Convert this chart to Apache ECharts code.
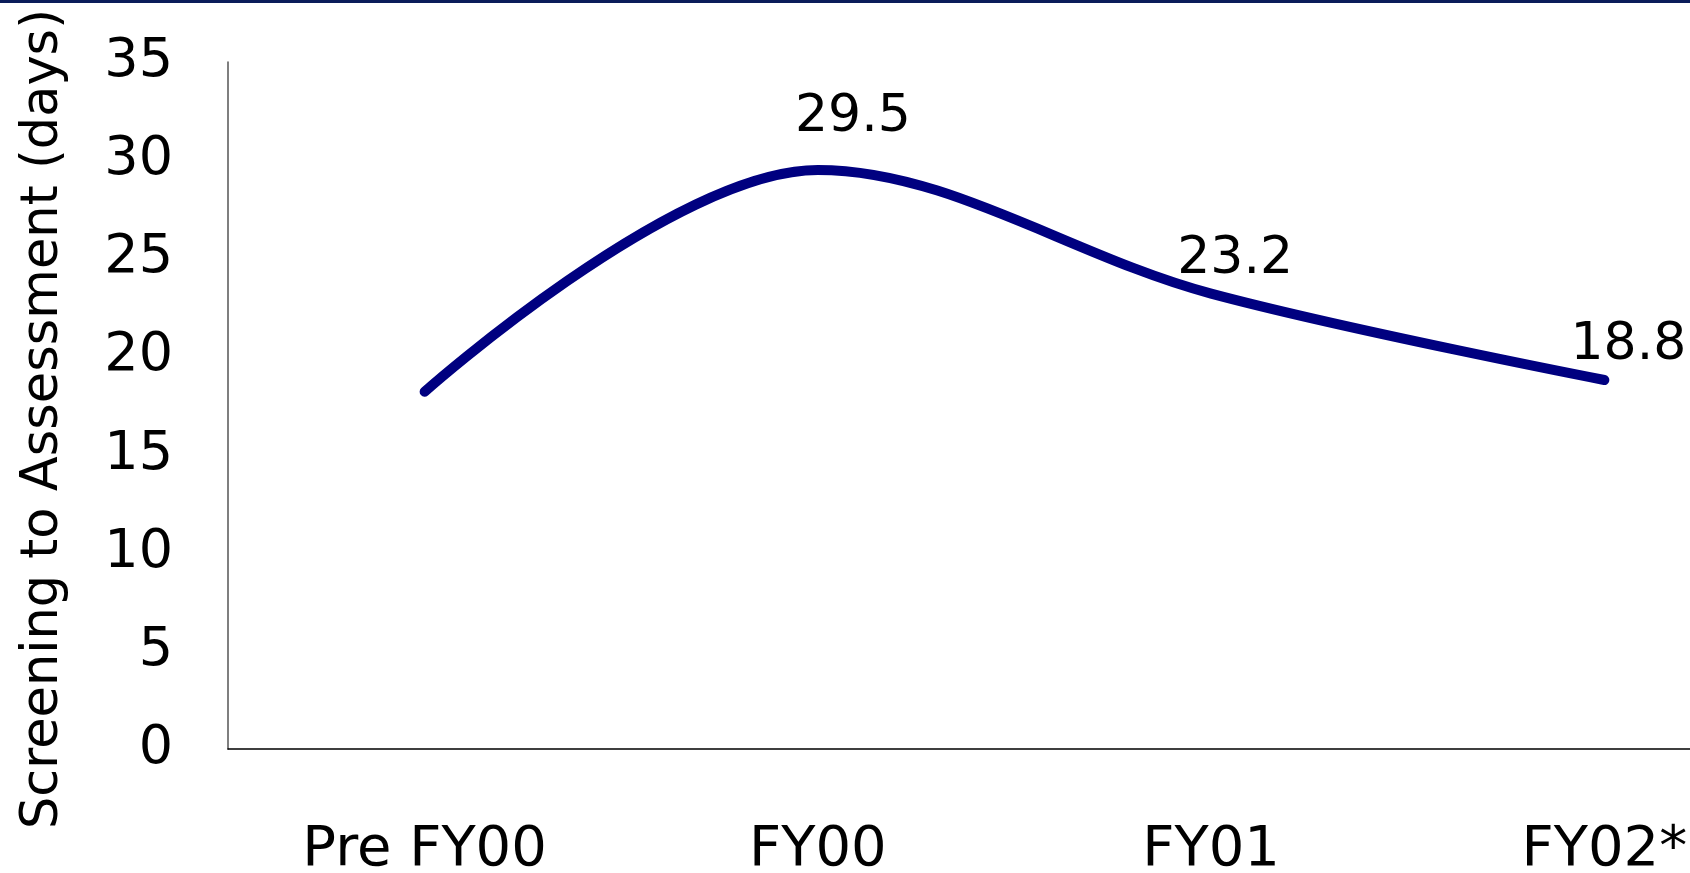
<!DOCTYPE html>
<html>
<head>
<meta charset="utf-8">
<script src="https://cdn.jsdelivr.net/npm/echarts@6/dist/echarts.min.js"></script>
<style>
html,body{margin:0;padding:0;background:#fff;}
#chart{width:1690px;height:873px;}
</style>
</head>
<body>
<div id="chart"></div>
<script>
var categories = ['Pre FY00', 'FY00', 'FY01', 'FY02*'];
var values = [18.2, 29.5, 23.2, 18.8];
var showLabel = [false, true, true, true];
var yAxisTitle = 'Screening to Assessment (days)';
var yMin = 0, yMax = 35, yStep = 5;

var FONT = 'DejaVu Sans';
var chart = echarts.init(document.getElementById('chart'), null, {renderer: 'canvas'});
var seriesData = values.map(function (v, i) {
  return {
    value: v,
    label: {
      show: showLabel[i],
      offset: i === 1 ? [35, -18] : [24, 0]
    }
  };
});
chart.setOption({
  animation: false,
  backgroundColor: '#ffffff',
  graphic: [{
    type: 'rect', left: 0, top: 0,
    shape: {width: 1690, height: 3},
    style: {fill: '#0b1d5a'}
  }],
  grid: {left: 228, top: 62, height: 687, width: 1573, containLabel: false, outerBoundsMode: 'none'},
  xAxis: {
    type: 'category',
    data: categories,
    boundaryGap: true,
    axisLine: {show: true, lineStyle: {color: '#000', width: 1.5}},
    axisTick: {show: false},
    axisLabel: {fontFamily: FONT, fontSize: 56, color: '#000', margin: 73}
  },
  yAxis: {
    type: 'value',
    min: yMin, max: yMax, interval: yStep,
    name: yAxisTitle,
    nameLocation: 'middle',
    nameGap: 159,
    nameRotate: 90,
    nameTextStyle: {fontFamily: FONT, fontSize: 51, color: '#000', padding: [0, 27, 0, 0]},
    axisLine: {show: true, lineStyle: {color: '#555', width: 1.5}},
    axisTick: {show: false},
    splitLine: {show: false},
    axisLabel: {fontFamily: FONT, fontSize: 54, color: '#000', margin: 55, padding: [10, 0, 0, 0]}
  },
  series: [{
    type: 'line',
    data: seriesData,
    smooth: 0.35,
    showSymbol: true,
    symbol: 'circle',
    symbolSize: 1,
    itemStyle: {color: 'rgba(0,0,128,0)'},
    lineStyle: {color: '#000080', width: 10, cap: 'round', join: 'round'},
    clip: false,
    label: {
      show: true,
      position: 'top',
      distance: 8,
      fontFamily: FONT, fontSize: 52, color: '#000',
      formatter: function (p) { return p.value.toFixed(1); }
    }
  }]
});
</script>
</body>
</html>
